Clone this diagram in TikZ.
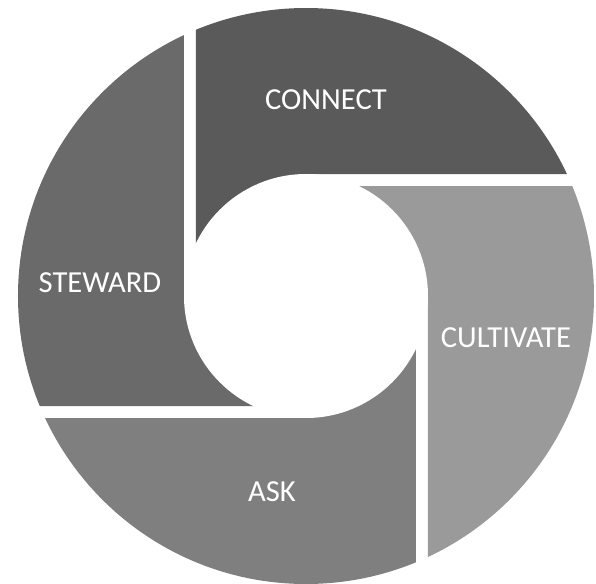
\documentclass[tikz,border=0pt]{standalone}
\usepackage{fontspec}
\setmainfont{Carlito}
\usepackage{tikz}
\definecolor{connectgray}{HTML}{5A5A5A}
\definecolor{cultivategray}{HTML}{9A9A9A}
\definecolor{askgray}{HTML}{7F7F7F}
\definecolor{stewardgray}{HTML}{6A6A6A}

\begin{document}
\begin{tikzpicture}[x=0.02cm,y=0.02cm,
    stage/.style={text=white,inner sep=0pt,font=\fontsize{17.4}{20}\selectfont}]
  \useasboundingbox (-306,-287) rectangle (290,296);
  % ring of radius 288 with a hole of 122, cut by 12-wide gaps
  \foreach \rot/\col in {0/connectgray,-90/cultivategray,-180/askgray,-270/stewardgray} {
    \begin{scope}[rotate=\rot]
      \clip (0,0) circle (288);
      \fill[\col] (-110,0) -- (-110,300) -- (300,300) -- (300,122) -- (0,122) -- (0,0) -- cycle;
    \end{scope}
  }
  \fill[white] (0,0) circle (122);
  \node[stage] (connect)   at (20,196)   {CONNECT};
  \node[stage] (cultivate) at (200,-42)  {CULTIVATE};
  \node[stage] (ask)       at (-34,-196) {ASK};
  \node[stage] (steward)   at (-206,13)  {STEWARD};
\end{tikzpicture}
\end{document}
